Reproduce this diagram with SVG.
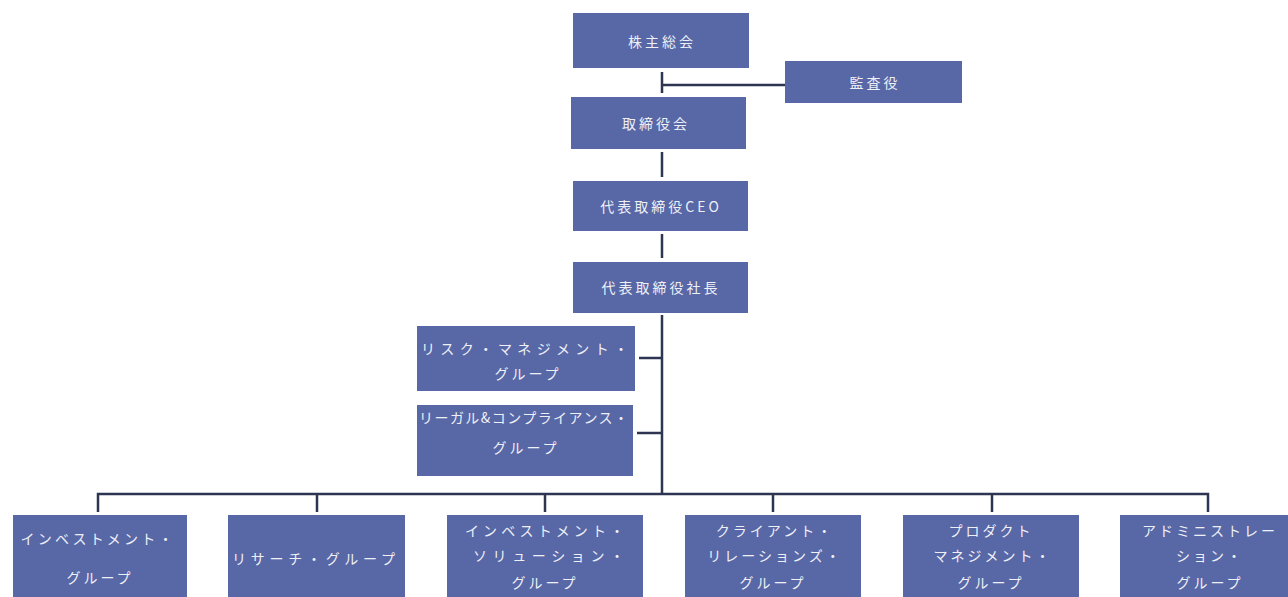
<svg xmlns="http://www.w3.org/2000/svg" width="1288" height="597" viewBox="0 0 1288 597">
<style>
.box{fill:#5867a6;}
.t{font-family:"Noto Sans CJK JP","Noto Sans",sans-serif;font-size:14px;fill:#eef0f6;text-anchor:middle;dominant-baseline:central;letter-spacing:3px;}
.c{stroke:#2e3552;stroke-width:2.5;fill:none;}
</style>
<rect width="1288" height="597" fill="#ffffff"/>
<g id="connectors">
<line class="c" x1="662" y1="72" x2="662" y2="93"/>
<line class="c" x1="662" y1="85" x2="785" y2="85"/>
<line class="c" x1="662" y1="152" x2="662" y2="177"/>
<line class="c" x1="662" y1="234" x2="662" y2="258"/>
<line class="c" x1="662" y1="315" x2="662" y2="494"/>
<line class="c" x1="639" y1="358" x2="662" y2="358"/>
<line class="c" x1="637" y1="433" x2="662" y2="433"/>
<polyline class="c" points="98,512 98,494 1208,494 1208,512"/>
<line class="c" x1="317" y1="494" x2="317" y2="512"/>
<line class="c" x1="545" y1="494" x2="545" y2="512"/>
<line class="c" x1="773" y1="494" x2="773" y2="512"/>
<line class="c" x1="992" y1="494" x2="992" y2="512"/>
</g>
<g id="n1"><rect class="box" x="573" y="13" width="176" height="55"/><text class="t" x="662" y="41" letter-spacing="1">株主総会</text></g>
<g id="n2"><rect class="box" x="785" y="61" width="177" height="42"/><text class="t" x="875" y="82" letter-spacing="2">監査役</text></g>
<g id="n3"><rect class="box" x="571" y="97" width="175" height="52"/><text class="t" x="656" y="123" letter-spacing="2">取締役会</text></g>
<g id="n4"><rect class="box" x="573" y="181" width="175" height="50"/><text class="t" x="661" y="206" letter-spacing="1">代表取締役CEO</text></g>
<g id="n5"><rect class="box" x="573" y="262" width="175" height="51"/><text class="t" x="661" y="287" letter-spacing="1">代表取締役社長</text></g>
<g id="n6"><rect class="box" x="417" y="326" width="218" height="65"/><text class="t" x="526" y="348" letter-spacing="0" textLength="210" lengthAdjust="spacing">リスク・マネジメント・</text><text class="t" x="528" y="373">グループ</text></g>
<g id="n7"><rect class="box" x="417" y="405" width="216" height="71"/><text class="t" x="525" y="417" letter-spacing="0" textLength="212" lengthAdjust="spacing">リーガル&amp;コンプライアンス・</text><text class="t" x="526" y="447">グループ</text></g>
<g id="n8"><rect class="box" x="13" y="515" width="174" height="90"/><text class="t" x="98" y="538" letter-spacing="0" textLength="155" lengthAdjust="spacing">インベストメント・</text><text class="t" x="100" y="577">グループ</text></g>
<g id="n9"><rect class="box" x="228" y="515" width="177" height="90"/><text class="t" x="315" y="558" letter-spacing="0" textLength="166" lengthAdjust="spacing">リサーチ・グループ</text></g>
<g id="n10"><rect class="box" x="447" y="515" width="196" height="90"/><text class="t" x="546" y="530" letter-spacing="0" textLength="162" lengthAdjust="spacing">インベストメント・</text><text class="t" x="550" y="555" letter-spacing="0" textLength="154" lengthAdjust="spacing">ソリューション・</text><text class="t" x="545" y="582">グループ</text></g>
<g id="n11"><rect class="box" x="685" y="515" width="176" height="90"/><text class="t" x="775" y="530" letter-spacing="4">クライアント・</text><text class="t" x="775" y="555" letter-spacing="4">リレーションズ・</text><text class="t" x="773" y="582">グループ</text></g>
<g id="n12"><rect class="box" x="903" y="515" width="176" height="90"/><text class="t" x="991" y="530" letter-spacing="5">プロダクト</text><text class="t" x="993" y="555" letter-spacing="4">マネジメント・</text><text class="t" x="991" y="582">グループ</text></g>
<g id="n13"><rect class="box" x="1120" y="515" width="180" height="90"/><text class="t" x="1210" y="530" letter-spacing="4">アドミニストレー</text><text class="t" x="1210" y="555" letter-spacing="5">ション・</text><text class="t" x="1210" y="582">グループ</text></g>
</svg>
